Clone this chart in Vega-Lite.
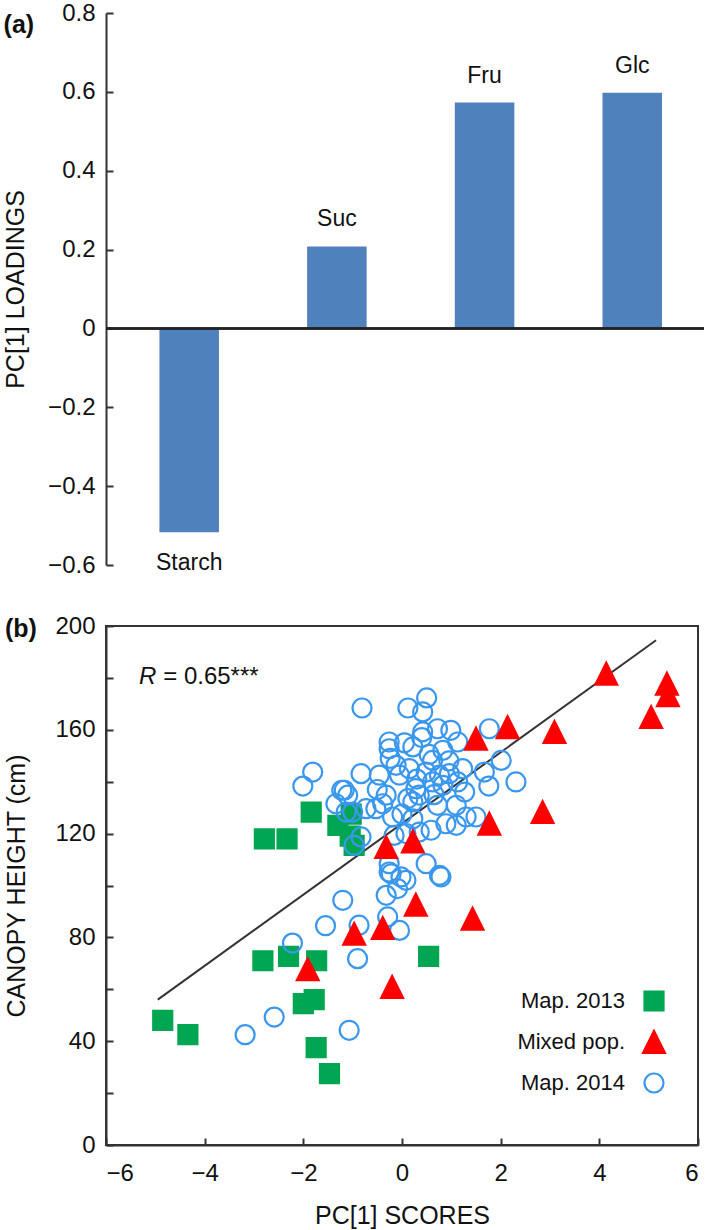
{
  "$schema": "https://vega.github.io/schema/vega-lite/v6.json",
  "padding": {"left": 3, "top": 1, "right": 0, "bottom": 0},
  "bounds": "flush",
  "spacing": 61,
  "config": {
    "font": "Liberation Sans",
    "view": {"stroke": null},
    "axis": {
      "labelFont": "Liberation Sans", "labelFontSize": 24, "labelColor": "#111",
      "titleFont": "Liberation Sans", "titleFontSize": 25, "titleFontWeight": "normal", "titleColor": "#111",
      "domainColor": "#333", "domainWidth": 2, "tickColor": "#333", "tickWidth": 2, "tickSize": -7, "grid": false
    },
    "legend": {"labelFont": "Liberation Sans"}
  },
  "datasets": {
    "loadings": [
      {"sugar": "Starch", "loading": -0.517},
      {"sugar": "Suc", "loading": 0.208},
      {"sugar": "Fru", "loading": 0.573},
      {"sugar": "Glc", "loading": 0.598}
    ],
    "fit": [
      {"pc1": -4.95, "height": 56},
      {"pc1": 5.15, "height": 194.5}
    ],
    "scores": [
      {"group": "Map. 2013", "pc1": -4.85, "height": 48},
      {"group": "Map. 2013", "pc1": -4.34, "height": 42.5},
      {"group": "Map. 2013", "pc1": -2.82, "height": 71},
      {"group": "Map. 2013", "pc1": -2.3, "height": 72.7},
      {"group": "Map. 2013", "pc1": -1.73, "height": 71},
      {"group": "Map. 2013", "pc1": -1.78, "height": 56},
      {"group": "Map. 2013", "pc1": -2.0, "height": 54.5},
      {"group": "Map. 2013", "pc1": -1.74, "height": 37.5},
      {"group": "Map. 2013", "pc1": -1.47, "height": 27.5},
      {"group": "Map. 2013", "pc1": 0.54, "height": 72.7},
      {"group": "Map. 2013", "pc1": -2.79, "height": 118},
      {"group": "Map. 2013", "pc1": -2.33, "height": 118},
      {"group": "Map. 2013", "pc1": -1.84, "height": 128.3},
      {"group": "Map. 2013", "pc1": -1.3, "height": 123.2},
      {"group": "Map. 2013", "pc1": -1.03, "height": 127.5},
      {"group": "Map. 2013", "pc1": -1.05, "height": 119},
      {"group": "Map. 2013", "pc1": -0.97, "height": 115.5},
      {"group": "Map. 2014", "pc1": -3.18, "height": 42.5},
      {"group": "Map. 2014", "pc1": -2.59, "height": 49.3},
      {"group": "Map. 2014", "pc1": -2.22, "height": 77.8},
      {"group": "Map. 2014", "pc1": -1.55, "height": 84.5},
      {"group": "Map. 2014", "pc1": -1.2, "height": 94.3},
      {"group": "Map. 2014", "pc1": -0.9, "height": 71.8},
      {"group": "Map. 2014", "pc1": -1.07, "height": 44.2},
      {"group": "Map. 2014", "pc1": -0.87, "height": 84.7},
      {"group": "Map. 2014", "pc1": -0.29, "height": 87.9},
      {"group": "Map. 2014", "pc1": -0.05, "height": 82.7},
      {"group": "Map. 2014", "pc1": -0.32, "height": 96.2},
      {"group": "Map. 2014", "pc1": -0.09, "height": 98.8},
      {"group": "Map. 2014", "pc1": -0.22, "height": 104.5},
      {"group": "Map. 2014", "pc1": -0.02, "height": 103.3},
      {"group": "Map. 2014", "pc1": 0.08, "height": 102},
      {"group": "Map. 2014", "pc1": 0.49, "height": 108.4},
      {"group": "Map. 2014", "pc1": 0.79, "height": 103.3},
      {"group": "Map. 2014", "pc1": -0.26, "height": 108.4},
      {"group": "Map. 2014", "pc1": -2.01, "height": 138.3},
      {"group": "Map. 2014", "pc1": -1.81, "height": 143.7},
      {"group": "Map. 2014", "pc1": -1.17, "height": 136.7},
      {"group": "Map. 2014", "pc1": -1.34, "height": 131.5},
      {"group": "Map. 2014", "pc1": -1.13, "height": 128.3},
      {"group": "Map. 2014", "pc1": -0.81, "height": 168.4},
      {"group": "Map. 2014", "pc1": 0.12, "height": 168.4},
      {"group": "Map. 2014", "pc1": 0.5, "height": 172.3},
      {"group": "Map. 2014", "pc1": 0.42, "height": 166.9},
      {"group": "Map. 2014", "pc1": 1.77, "height": 160.4},
      {"group": "Map. 2014", "pc1": 2.01, "height": 148.2},
      {"group": "Map. 2014", "pc1": 1.67, "height": 143.7},
      {"group": "Map. 2014", "pc1": 1.76, "height": 138.3},
      {"group": "Map. 2014", "pc1": 2.31, "height": 139.9},
      {"group": "Map. 2014", "pc1": 1.5, "height": 126.4},
      {"group": "Map. 2014", "pc1": -0.83, "height": 143.1},
      {"group": "Map. 2014", "pc1": -1.22, "height": 136.7},
      {"group": "Map. 2014", "pc1": -0.97, "height": 115.5},
      {"group": "Map. 2014", "pc1": -0.83, "height": 118.7},
      {"group": "Map. 2014", "pc1": -1.0, "height": 128.3},
      {"group": "Map. 2014", "pc1": -1.1, "height": 134.8},
      {"group": "Map. 2014", "pc1": -0.46, "height": 142.5},
      {"group": "Map. 2014", "pc1": -0.26, "height": 155.3},
      {"group": "Map. 2014", "pc1": -0.26, "height": 152.7},
      {"group": "Map. 2014", "pc1": 0.22, "height": 153.4},
      {"group": "Map. 2014", "pc1": 0.42, "height": 159.2},
      {"group": "Map. 2014", "pc1": 0.72, "height": 160.4},
      {"group": "Map. 2014", "pc1": 0.99, "height": 159.8},
      {"group": "Map. 2014", "pc1": 1.13, "height": 155.3},
      {"group": "Map. 2014", "pc1": 0.83, "height": 152.1},
      {"group": "Map. 2014", "pc1": 0.62, "height": 148.2},
      {"group": "Map. 2014", "pc1": -0.12, "height": 146.3},
      {"group": "Map. 2014", "pc1": 0.15, "height": 145},
      {"group": "Map. 2014", "pc1": -0.05, "height": 142.5},
      {"group": "Map. 2014", "pc1": 0.49, "height": 143.7},
      {"group": "Map. 2014", "pc1": 0.76, "height": 142.5},
      {"group": "Map. 2014", "pc1": 0.96, "height": 143.1},
      {"group": "Map. 2014", "pc1": 1.23, "height": 145},
      {"group": "Map. 2014", "pc1": 0.62, "height": 139.9},
      {"group": "Map. 2014", "pc1": 0.83, "height": 138.6},
      {"group": "Map. 2014", "pc1": 1.13, "height": 139.9},
      {"group": "Map. 2014", "pc1": 0.28, "height": 137.3},
      {"group": "Map. 2014", "pc1": 0.12, "height": 133.5},
      {"group": "Map. 2014", "pc1": 0.35, "height": 134.8},
      {"group": "Map. 2014", "pc1": 0.22, "height": 132.2},
      {"group": "Map. 2014", "pc1": -0.32, "height": 134.8},
      {"group": "Map. 2014", "pc1": -0.53, "height": 129.6},
      {"group": "Map. 2014", "pc1": -0.39, "height": 131.5},
      {"group": "Map. 2014", "pc1": -0.73, "height": 129.6},
      {"group": "Map. 2014", "pc1": 0.72, "height": 130.9},
      {"group": "Map. 2014", "pc1": 1.1, "height": 130.9},
      {"group": "Map. 2014", "pc1": 1.27, "height": 136},
      {"group": "Map. 2014", "pc1": 1.3, "height": 126.4},
      {"group": "Map. 2014", "pc1": 1.1, "height": 123.2},
      {"group": "Map. 2014", "pc1": 0.89, "height": 123.8},
      {"group": "Map. 2014", "pc1": 0.59, "height": 121.3},
      {"group": "Map. 2014", "pc1": 0.35, "height": 120.6},
      {"group": "Map. 2014", "pc1": 0.08, "height": 120},
      {"group": "Map. 2014", "pc1": 0.22, "height": 125.7},
      {"group": "Map. 2014", "pc1": -0.19, "height": 126.4},
      {"group": "Map. 2014", "pc1": -0.16, "height": 119.3},
      {"group": "Map. 2014", "pc1": -0.26, "height": 105.2},
      {"group": "Map. 2014", "pc1": 0.76, "height": 103.9},
      {"group": "Map. 2014", "pc1": 0.4, "height": 157},
      {"group": "Map. 2014", "pc1": 0.55, "height": 150.5},
      {"group": "Map. 2014", "pc1": -0.24, "height": 149},
      {"group": "Map. 2014", "pc1": 0.0, "height": 127.5},
      {"group": "Map. 2014", "pc1": 0.95, "height": 148},
      {"group": "Map. 2014", "pc1": 0.3, "height": 141},
      {"group": "Map. 2014", "pc1": -0.5, "height": 137},
      {"group": "Map. 2014", "pc1": 0.05, "height": 155},
      {"group": "Map. 2014", "pc1": 0.65, "height": 135},
      {"group": "Mixed pop.", "pc1": -1.91, "height": 67.7},
      {"group": "Mixed pop.", "pc1": -0.97, "height": 81.4},
      {"group": "Mixed pop.", "pc1": -0.39, "height": 83.6},
      {"group": "Mixed pop.", "pc1": 0.28, "height": 92.6},
      {"group": "Mixed pop.", "pc1": 1.43, "height": 87.2},
      {"group": "Mixed pop.", "pc1": -0.2, "height": 60.9},
      {"group": "Mixed pop.", "pc1": -0.32, "height": 114.8},
      {"group": "Mixed pop.", "pc1": 0.22, "height": 117},
      {"group": "Mixed pop.", "pc1": 1.5, "height": 156.6},
      {"group": "Mixed pop.", "pc1": 2.14, "height": 161},
      {"group": "Mixed pop.", "pc1": 1.77, "height": 123.8},
      {"group": "Mixed pop.", "pc1": 3.09, "height": 159.2},
      {"group": "Mixed pop.", "pc1": 2.85, "height": 128.3},
      {"group": "Mixed pop.", "pc1": 4.14, "height": 181.6},
      {"group": "Mixed pop.", "pc1": 5.37, "height": 177.8},
      {"group": "Mixed pop.", "pc1": 5.39, "height": 173.3},
      {"group": "Mixed pop.", "pc1": 5.05, "height": 164.9}
    ]
  },
  "vconcat": [
    {
      "width": 598,
      "height": 552,
      "title": {"text": "(a)", "anchor": "start", "frame": "bounds", "fontSize": 25, "fontWeight": "bold", "font": "Liberation Sans", "color": "#111", "offset": 0, "dy": 37},
      "data": {"name": "loadings"},
      "layer": [
        {
          "mark": {"type": "bar", "color": "#4F81BD"},
          "encoding": {
            "x": {"field": "sugar", "type": "nominal", "sort": ["Starch", "Suc", "Fru", "Glc"], "scale": {"paddingInner": 0.597, "paddingOuter": 0.323, "align": 0.56}, "axis": null},
            "y": {"field": "loading", "type": "quantitative", "scale": {"domain": [-0.6, 0.8], "nice": false, "zero": false},
              "axis": {"title": "PC[1] LOADINGS", "values": [-0.6, -0.4, -0.2, 0, 0.2, 0.4, 0.6, 0.8], "labelExpr": "datum.value == 0 ? '0' : format(datum.value, '.1f')", "labelPadding": 18, "titlePadding": 19}}
          }
        },
        {
          "mark": {"type": "rule", "color": "#222", "strokeWidth": 2},
          "encoding": {"y": {"datum": 0}}
        },
        {
          "transform": [{"filter": "datum.loading > 0"}],
          "mark": {"type": "text", "baseline": "alphabetic", "dy": -20, "fontSize": 23, "color": "#111"},
          "encoding": {
            "x": {"field": "sugar", "type": "nominal", "sort": ["Starch", "Suc", "Fru", "Glc"]},
            "y": {"field": "loading", "type": "quantitative"},
            "text": {"field": "sugar"}
          }
        },
        {
          "transform": [{"filter": "datum.loading < 0"}],
          "mark": {"type": "text", "baseline": "alphabetic", "dy": 38, "fontSize": 23, "color": "#111"},
          "encoding": {
            "x": {"field": "sugar", "type": "nominal", "sort": ["Starch", "Suc", "Fru", "Glc"]},
            "y": {"field": "loading", "type": "quantitative"},
            "text": {"field": "sugar"}
          }
        }
      ]
    },
    {
      "width": 592,
      "height": 519,
      "view": {"stroke": "#333", "strokeWidth": 2},
      "title": {"text": "(b)", "anchor": "start", "frame": "bounds", "fontSize": 25, "fontWeight": "bold", "font": "Liberation Sans", "color": "#111", "offset": 0, "dy": 28},
      "layer": [
        {
          "data": {"name": "fit"},
          "mark": {"type": "line", "color": "#333", "strokeWidth": 2},
          "encoding": {
            "x": {"field": "pc1", "type": "quantitative", "scale": {"domain": [-6, 6], "nice": false, "zero": false},
              "axis": {"title": "PC[1] SCORES", "values": [-6, -4, -2, 0, 2, 4, 6], "labelPadding": 23, "titlePadding": 18}},
            "y": {"field": "height", "type": "quantitative", "scale": {"domain": [0, 200], "nice": false},
              "axis": {"title": "CANOPY HEIGHT (cm)", "values": [0, 20, 40, 60, 80, 100, 120, 140, 160, 180, 200], "labelExpr": "datum.value % 40 == 0 ? datum.label : ''", "labelPadding": 18, "titlePadding": 25}}
          }
        },
        {
          "data": {"name": "scores"},
          "mark": {"type": "point", "opacity": 1, "strokeWidth": 2.2, "size": 361},
          "encoding": {
            "x": {"field": "pc1", "type": "quantitative"},
            "y": {"field": "height", "type": "quantitative"},
            "shape": {"field": "group", "type": "nominal", "scale": {"domain": ["Map. 2013", "Mixed pop.", "Map. 2014"], "range": ["square", "M0,-1.15L1.15,1.15L-1.15,1.15Z", "circle"]},
              "legend": {"title": null, "orient": "none", "legendX": 537, "legendY": 977, "labelAlign": "right", "labelOffset": -40, "labelFontSize": 22, "labelColor": "#111", "rowPadding": 11, "symbolSize": 361, "symbolStrokeWidth": 2.2, "padding": 0}},
            "fill": {"field": "group", "type": "nominal", "scale": {"domain": ["Map. 2013", "Mixed pop.", "Map. 2014"], "range": ["#00A651", "#FF0000", "transparent"]}},
            "stroke": {"field": "group", "type": "nominal", "scale": {"domain": ["Map. 2013", "Mixed pop.", "Map. 2014"], "range": ["#00A651", "#FF0000", "#3A97EE"]}}
          }
        },
        {
          "data": {"values": [{"t": "R"}]},
          "mark": {"type": "text", "align": "left", "baseline": "middle", "fontSize": 24, "fontStyle": "italic", "color": "#111"},
          "encoding": {"x": {"datum": -5.33}, "y": {"datum": 180.5}, "text": {"field": "t"}}
        },
        {
          "data": {"values": [{"t": "= 0.65***"}]},
          "mark": {"type": "text", "align": "left", "baseline": "middle", "fontSize": 24, "color": "#111"},
          "encoding": {"x": {"datum": -4.84}, "y": {"datum": 180.5}, "text": {"field": "t"}}
        }
      ]
    }
  ]
}
